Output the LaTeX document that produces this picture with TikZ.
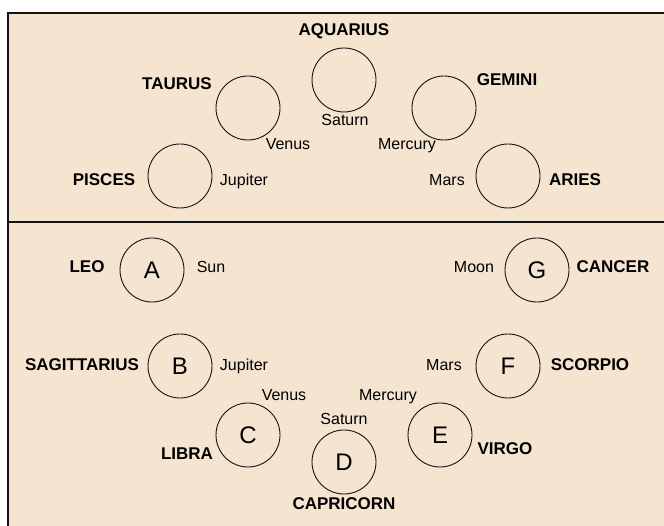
\documentclass[tikz,border=0pt]{standalone}
\usepackage{fontspec}
\setmainfont{Liberation Sans}
\usepackage{tikz}
\usetikzlibrary{positioning}
\definecolor{mybeige}{RGB}{245,228,208}
\definecolor{mydark}{RGB}{20,20,20}
\tikzset{
  house/.style={circle, draw=mydark, line width=0.9pt, minimum size=64pt,
    inner sep=0pt, font=\fontsize{24}{24}\selectfont},
  sign/.style={font=\fontsize{17}{17}\selectfont\bfseries, inner sep=0pt, anchor=mid},
  ruler/.style={font=\fontsize{16}{16}\selectfont, inner sep=0pt, anchor=mid}
}

\begin{document}
\begin{tikzpicture}[x=1pt, y=-1pt]
  \useasboundingbox (0,0) rectangle (664,526);
  % Frame and divider
  \fill[mybeige] (8,13) rectangle (664,526);
  \draw[line width=2pt, color=mydark] (8,526) -- (8,13) -- (664,13);
  \draw[line width=1.5pt, color=mydark] (8,222) -- (664,222);

  % Upper half
  \node[house] (aqu) at (344,80) {};
  \node[house] (tau) at (248,108) {};
  \node[house] (gem) at (444,108) {};
  \node[house] (pis) at (180,176) {};
  \node[house] (ari) at (508,176) {};
  \node[sign] (aquL) at (344,33) {AQUARIUS};
  \node[sign] (tauL) at (177,87) {TAURUS};
  \node[sign] (gemL) at (507,83) {GEMINI};
  \node[sign] (pisL) at (104,183) {PISCES};
  \node[sign] (ariL) at (575,183) {ARIES};
  \node[ruler] (aquP) at (345,123) {Saturn};
  \node[ruler] (tauP) at (288,147) {Venus};
  \node[ruler] (gemP) at (407,147) {Mercury};
  \node[ruler] (pisP) at (244,183) {Jupiter};
  \node[ruler] (ariP) at (447,183) {Mars};

  % Lower half
  \node[house] (hA) at (152,270) {A};
  \node[house] (hB) at (180,366) {B};
  \node[house] (hC) at (248,435) {C};
  \node[house] (hD) at (344,462) {D};
  \node[house] (hE) at (440,435) {E};
  \node[house] (hF) at (508,366) {F};
  \node[house] (hG) at (537,270) {G};
  \node[sign] (leoL) at (87,270) {LEO};
  \node[sign] (sagL) at (82,368) {SAGITTARIUS};
  \node[sign] (libL) at (187,457) {LIBRA};
  \node[sign] (capL) at (344,507) {CAPRICORN};
  \node[sign] (virL) at (505,452) {VIRGO};
  \node[sign] (scoL) at (590,368) {SCORPIO};
  \node[sign] (canL) at (613,270) {CANCER};
  \node[ruler] (leoP) at (211,270) {Sun};
  \node[ruler] (sagP) at (244,368) {Jupiter};
  \node[ruler] (libP) at (284,398) {Venus};
  \node[ruler] (capP) at (344,422) {Saturn};
  \node[ruler] (virP) at (388,398) {Mercury};
  \node[ruler] (scoP) at (444,368) {Mars};
  \node[ruler] (canP) at (474,270) {Moon};
\end{tikzpicture}
\end{document}
